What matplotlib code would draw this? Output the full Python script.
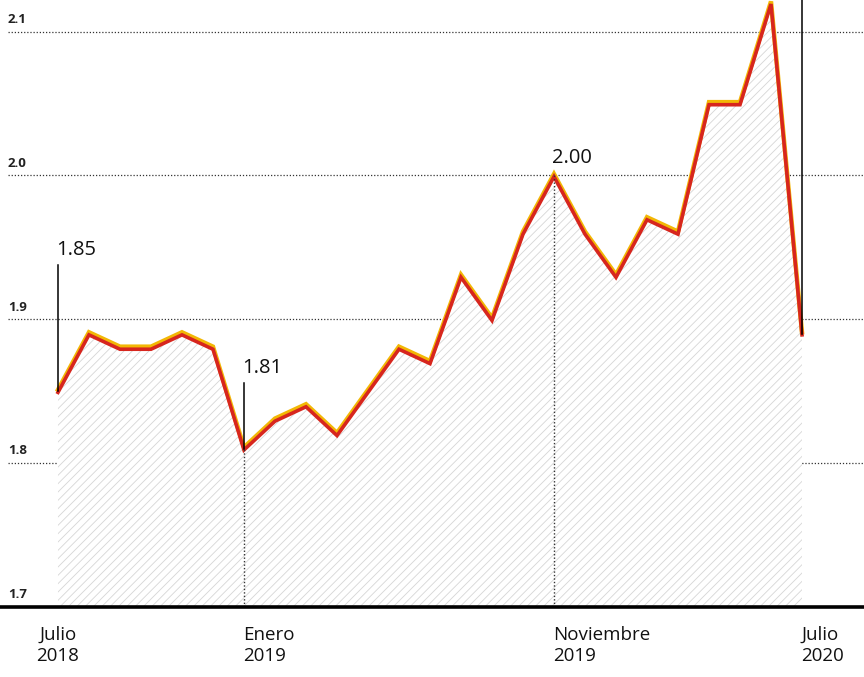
import matplotlib
matplotlib.use('Agg')
import matplotlib.pyplot as plt
import numpy as np

# monthly values, Julio 2018 .. Julio 2020
months = ['Jul18', 'Ago18', 'Sep18', 'Oct18', 'Nov18', 'Dic18',
          'Ene19', 'Feb19', 'Mar19', 'Abr19', 'May19', 'Jun19',
          'Jul19', 'Ago19', 'Sep19', 'Oct19', 'Nov19', 'Dic19',
          'Ene20', 'Feb20', 'Mar20', 'Abr20', 'May20', 'Jun20', 'Jul20']
values = [1.85, 1.89, 1.88, 1.88, 1.89, 1.88,
          1.81, 1.83, 1.84, 1.82, 1.85, 1.88,
          1.87, 1.93, 1.90, 1.96, 2.00, 1.96,
          1.93, 1.97, 1.96, 2.05, 2.05, 2.12, 1.89]
y_ticks = [1.7, 1.8, 1.9, 2.0, 2.1]
y_tick_labels = ['1.7', '1.8', '1.9', '2.0', '2.1']
x_label_idx = [0, 6, 16, 24]
x_labels = ['Julio\n2018', 'Enero\n2019', 'Noviembre\n2019', 'Julio\n2020']
callout_idx = [0, 6, 16]
callout_text = ['1.85', '1.81', '2.00']

plt.rcParams['font.family'] = ['Open Sans', 'DejaVu Sans']
plt.rcParams['hatch.linewidth'] = 0.6
plt.rcParams['hatch.color'] = '#d6d6d6'

fig = plt.figure(figsize=(8.64, 6.77), dpi=100)
ax = fig.add_axes([0, 70 / 677, 1, 607 / 677])
x = np.arange(len(values))
ax.set_xlim(-1.87, 26.0)
ax.set_ylim(1.7, 2.122)
ax.axis('off')

# dotted gridlines + labels
for t in y_ticks[1:]:
    ax.plot([-1.62, 26.0], [t, t], color='#333333', ls=(0, (1, 1.5)), lw=0.9, zorder=1)
for t, lab in zip(y_ticks, y_tick_labels):
    ax.text(-1.62, t + 0.004, lab, fontsize=9.5, fontweight='bold', color='#222222',
            ha='left', va='bottom')

# hatched area under the line
ax.fill_between(x, values, 1.7, facecolor='white', hatch='////', edgecolor='#d6d6d6',
                linewidth=0, zorder=2)

# line with thin yellow edge on top
ax.plot(x, np.array(values) + 0.001, color='#f2b705', lw=3.2, zorder=4, solid_joinstyle='miter')
ax.plot(x, np.array(values) - 0.0008, color='#d7261e', lw=2.6, zorder=5,
        solid_joinstyle='miter')

# callouts
ax.plot([0, 0], [values[0], 1.938], color='black', lw=1.1, zorder=6)
ax.plot([6, 6], [values[6], 1.856], color='black', lw=1.1, zorder=6)
ax.plot([6, 6], [1.7, values[6]], color='#333333', ls=(0, (1, 1.5)), lw=1, zorder=6)
ax.plot([16, 16], [1.7, values[16]], color='#333333', ls=(0, (1, 1.5)), lw=1, zorder=6)
ax.plot([24, 24], [values[24], 2.2], color='black', lw=1.1, zorder=6, clip_on=False)

label_y = [1.941, 1.859, 2.005]
for i, txt, ly in zip(callout_idx, callout_text, label_y):
    ax.text(i - 0.05, ly, txt, fontsize=14.5, color='#111111', ha='left', va='bottom', zorder=7)

# bottom axis
ax.plot([-1.87, 26.0], [1.7, 1.7], color='black', lw=2.6, zorder=8, clip_on=False)

# x labels
for k, (i, lab) in enumerate(zip(x_label_idx, x_labels)):
    ha = 'center' if k == 0 else 'left'
    xi = i if k == 0 else i - 0.03
    ax.text(xi, 1.687, lab, fontsize=13.5, color='#111111', ha=ha, va='top',
            linespacing=1.25, family=['Liberation Sans Narrow', 'Open Sans', 'DejaVu Sans'])

fig.savefig('out.png', dpi=100, facecolor='white')
